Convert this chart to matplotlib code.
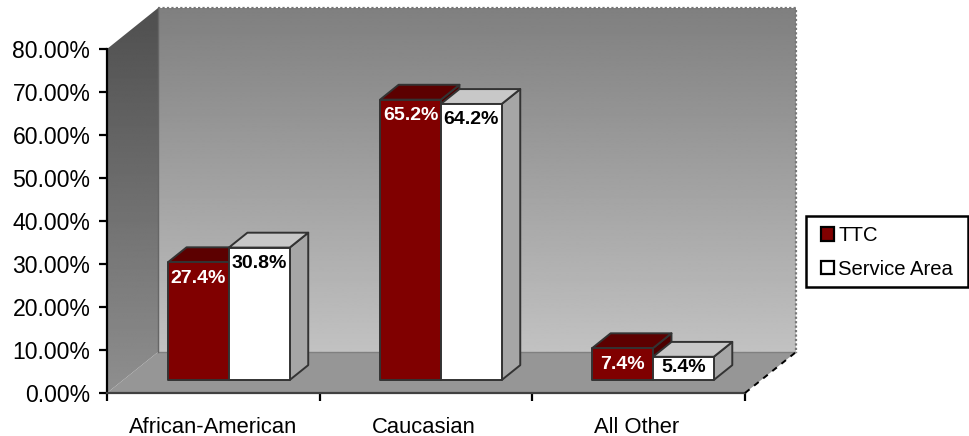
import matplotlib
matplotlib.use("Agg")
import matplotlib.pyplot as plt
import numpy as np
from matplotlib.patches import Patch, Polygon, Rectangle

plt.rcParams["font.family"] = ["Liberation Sans", "DejaVu Sans"]

categories = ["African-American", "Caucasian", "All Other"]
series_names = ["TTC", "Service Area"]
ttc_values = [27.4, 65.2, 7.4]
service_values = [30.8, 64.2, 5.4]
y_ticks = [0, 10, 20, 30, 40, 50, 60, 70, 80]

# fake 3D: how far the box recedes, in axis units
DEPTH_X = 0.24
DEPTH_Y = 9.53
BAR_W = 0.286
BAR_FRONT = 0.317
BAR_BACK = 0.68
GROUP_STEP = 0.997

fig = plt.figure(figsize=(9.69, 4.36), dpi=100)
ax = fig.add_axes([107 / 969, 1 - 393 / 436, 638 / 969, 344 / 436])
ax.set_xlim(0, 3)
ax.set_ylim(0, 80)


def project(x, y, depth):
    return (x + DEPTH_X * depth, y + DEPTH_Y * depth)


def gradient_face(points, top, bottom, zorder=1):
    poly = Polygon(points, closed=True, transform=ax.transData, fill=False, edgecolor="none")
    ax.add_patch(poly)
    poly.set_clip_on(False)
    xs = [p[0] for p in points]
    ys = [p[1] for p in points]
    grad = np.linspace(top, bottom, 256).reshape(-1, 1)
    im = ax.imshow(grad, cmap="gray", vmin=0, vmax=1, aspect="auto", zorder=zorder,
                   extent=(min(xs), max(xs), min(ys), max(ys)), interpolation="bilinear")
    im.set_clip_box(fig.bbox)
    im.set_clip_path(poly)


# walls and floor
gradient_face([project(0, 0, 1), project(3, 0, 1), project(3, 80, 1), project(0, 80, 1)], 0.50, 0.76)
gradient_face([project(0, 0, 0), project(0, 0, 1), project(0, 80, 1), project(0, 80, 0)], 0.31, 0.56)
ax.add_patch(Polygon([project(0, 0, 0), project(3, 0, 0), project(3, 0, 1), project(0, 0, 1)],
                     closed=True, facecolor="#969696", edgecolor="none", zorder=2, clip_on=False))
ax.set_xlim(0, 3)
ax.set_ylim(0, 80)

# dotted outer edges of the back wall, dashes along the floor edge
ax.plot(*zip(project(0, 80, 1), project(3, 80, 1), project(3, 0, 1)), color="#777777", lw=1.6,
        ls=(0, (1, 1)), zorder=3, clip_on=False)
ax.plot(*zip(project(0, 0, 1), project(3, 0, 1)), color="#808080", lw=1, zorder=3, clip_on=False)
ax.plot(*zip(project(3, 0, 0), project(3, 0, 1)), color="black", lw=1.4,
        ls=(0, (3, 3)), zorder=3, clip_on=False)
ax.plot(*zip(project(0, 0, 1), project(0, 80, 1)), color="#666666", lw=1, zorder=3, clip_on=False)


def draw_bar(x0, value, front, top, side, zorder):
    x1 = x0 + BAR_W
    edge = {"edgecolor": "#333333", "linewidth": 1.4, "joinstyle": "round", "clip_on": False, "zorder": zorder}
    ax.add_patch(Polygon([project(x1, 0, BAR_FRONT), project(x1, 0, BAR_BACK),
                          project(x1, value, BAR_BACK), project(x1, value, BAR_FRONT)],
                         closed=True, facecolor=side, **edge))
    ax.add_patch(Polygon([project(x0, value, BAR_FRONT), project(x1, value, BAR_FRONT),
                          project(x1, value, BAR_BACK), project(x0, value, BAR_BACK)],
                         closed=True, facecolor=top, **edge))
    ax.add_patch(Polygon([project(x0, 0, BAR_FRONT), project(x1, 0, BAR_FRONT),
                          project(x1, value, BAR_FRONT), project(x0, value, BAR_FRONT)],
                         closed=True, facecolor=front, **edge))


for i, (ttc, service) in enumerate(zip(ttc_values, service_values)):
    mid = 0.497 + i * GROUP_STEP
    left = mid - BAR_W
    # red first, the white bar hides whatever of it sits behind
    draw_bar(left, ttc, "#800000", "#5c0000", "#4d0000", 4 + i * 0.1)
    draw_bar(mid, service, "#ffffff", "#c8c8c8", "#a6a6a6", 4.05 + i * 0.1)
    for x0, value, color in [(left, ttc, "white"), (mid, service, "black")]:
        px, py = project(x0 + BAR_W / 2, max(value - 3.7, 3.0), BAR_FRONT)
        ax.text(px, py, f"{value}%", color=color, fontsize=14, fontweight="bold",
                ha="center", va="center", zorder=6)

# axes
for name in ["top", "right"]:
    ax.spines[name].set_visible(False)
ax.spines["left"].set_color("black")
ax.spines["left"].set_linewidth(1.6)
ax.spines["bottom"].set_color("#404040")
ax.spines["bottom"].set_linewidth(1.6)
ax.patch.set_visible(False)
ax.set_yticks(y_ticks)
ax.set_yticklabels([f"{t:.2f}%" for t in y_ticks], fontsize=16.6)
ax.set_xticks([0, 1, 2, 3])
ax.set_xticklabels([])
ax.tick_params(axis="both", length=6, width=1.6, color="black")
ax.tick_params(axis="y", pad=6)
ax.set_xticks([0.497, 1.49, 2.49], minor=True)
ax.set_xticklabels(categories, minor=True, fontsize=15.8)
ax.tick_params(axis="x", which="minor", length=0, pad=17)

# legend: frame drawn apart so its size can follow the picture
fig.add_artist(Rectangle((806 / 969, 1 - 287 / 436), 162 / 969, 71 / 436, transform=fig.transFigure,
                         facecolor="white", edgecolor="black", linewidth=1.8, zorder=-1))
handles = [Patch(facecolor="#800000", edgecolor="black", linewidth=1.6, label=series_names[0]),
           Patch(facecolor="#ffffff", edgecolor="black", linewidth=1.6, label=series_names[1])]
leg = ax.legend(handles=handles, loc="upper left", bbox_to_anchor=(821 / 969, 1 - 226 / 436),
                bbox_transform=fig.transFigure, borderaxespad=0, fontsize=14.6, frameon=False,
                handlelength=0.65, handleheight=0.65, handletextpad=0.2, labelspacing=0.72,
                borderpad=0)
leg.set_zorder(10)

fig.savefig("out.png", dpi=100)
